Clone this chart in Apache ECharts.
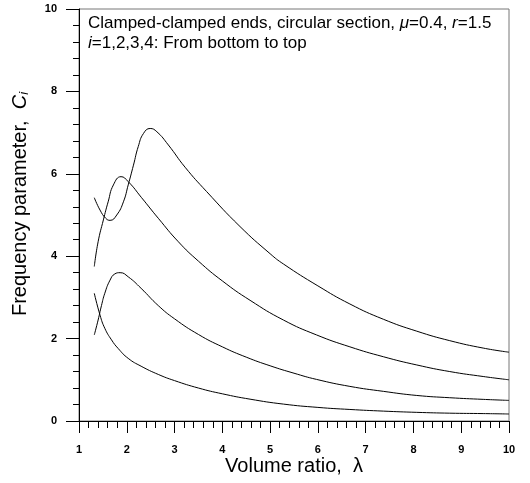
<!DOCTYPE html>
<html>
<head>
<meta charset="utf-8">
<script src="https://cdn.jsdelivr.net/npm/echarts@6/dist/echarts.min.js"></script>
<style>
  html, body { margin: 0; padding: 0; background: #fff; }
  #chart { width: 530px; height: 483px; }
</style>
</head>
<body>
<div id="chart"></div>
<script>
// values: volume ratio (lambda) and frequency parameter C_i
var lam1 = [1.32, 1.44, 1.54, 1.68, 1.82, 2.03, 2.30, 2.66, 3.0, 3.5, 4.0, 4.58, 5.28, 6.0, 6.67, 7.37, 8.07, 8.76, 9.46, 10];
var c1   = [3.10, 2.57, 2.25, 1.97, 1.76, 1.52, 1.33, 1.13, 0.98, 0.80, 0.66, 0.53, 0.41, 0.33, 0.28, 0.24, 0.21, 0.19, 0.18, 0.17];

var lam2 = [1.32, 1.40, 1.47, 1.54, 1.65, 1.75, 1.86, 2.03, 2.30, 2.66, 3.0, 3.5, 4.0, 4.5, 5.0, 5.5, 5.97, 6.67, 7.37, 8.07, 8.76, 9.46, 10];
var c2   = [2.09, 2.45, 2.80, 3.10, 3.42, 3.57, 3.60, 3.50, 3.22, 2.80, 2.48, 2.10, 1.80, 1.55, 1.34, 1.16, 1.01, 0.84, 0.72, 0.62, 0.565, 0.525, 0.50];

var lam3 = [1.32, 1.40, 1.51, 1.61, 1.72, 1.88, 2.03, 2.31, 2.66, 3.08, 3.5, 4.0, 4.58, 5.28, 5.97, 6.67, 7.37, 8.07, 8.76, 9.46, 10];
var c3   = [3.75, 4.35, 4.88, 5.32, 5.73, 5.93, 5.81, 5.42, 4.92, 4.35, 3.88, 3.40, 2.93, 2.45, 2.09, 1.80, 1.56, 1.36, 1.20, 1.08, 1.00];

var lam4 = [1.32, 1.44, 1.56, 1.65, 1.79, 1.93, 2.03, 2.14, 2.24, 2.35, 2.49, 2.63, 2.87, 3.22, 3.67, 4.37, 5.0, 5.28, 6.0, 6.67, 7.37, 8.07, 8.76, 9.46, 10];
var c4   = [5.42, 5.12, 4.92, 4.87, 5.00, 5.32, 5.73, 6.21, 6.66, 6.98, 7.10, 7.02, 6.70, 6.16, 5.57, 4.72, 4.06, 3.81, 3.28, 2.84, 2.47, 2.18, 1.95, 1.77, 1.67];

var xTicks = [1, 2, 3, 4, 5, 6, 7, 8, 9, 10];
var yTicks = [0, 2, 4, 6, 8, 10];

function zip(xs, ys) {
  return xs.map(function (x, k) { return [x, ys[k]]; });
}

var curves = [[lam1, c1], [lam2, c2], [lam3, c3], [lam4, c4]];

var font = '"Liberation Sans", Arial, sans-serif';

var chart = echarts.init(document.getElementById('chart'), null, { renderer: 'canvas' });

var option = {
  animation: false,
  backgroundColor: '#fff',
  grid: {
    left: 79, top: 9, right: 21, bottom: 62,
    show: true, borderColor: '#777', borderWidth: 1
  },
  title: {
    left: 88, top: 13, padding: 0,
    text: '{n|Clamped-clamped ends, circular section, }{it|μ}{n|=0.4, }{it|r}{n|=1.5}\n{it|i}{n|=1,2,3,4: From bottom to top}',
    textStyle: {
      rich: {
        n: { fontFamily: font, fontSize: 17, fontWeight: 'normal', color: '#000', lineHeight: 20 },
        it: { fontFamily: font, fontSize: 17, fontWeight: 'normal', color: '#000', fontStyle: 'italic', lineHeight: 20 }
      }
    }
  },
  xAxis: {
    type: 'value',
    min: xTicks[0], max: xTicks[xTicks.length - 1], interval: 1,
    name: 'Volume ratio,  λ',
    nameLocation: 'middle', nameGap: 35, nameMoveOverlap: false,
    nameTextStyle: { fontFamily: font, fontSize: 20, color: '#000' },
    axisLine: { onZero: false, lineStyle: { color: '#000', width: 1 } },
    axisTick: { length: 12, lineStyle: { color: '#000', width: 1 } },
    minorTick: { show: true, splitNumber: 5, length: 7, lineStyle: { color: '#000', width: 1 } },
    splitLine: { show: false },
    axisLabel: { margin: 23, fontFamily: font, fontSize: 11, fontWeight: 'bold', color: '#000' }
  },
  yAxis: {
    type: 'value',
    min: yTicks[0], max: yTicks[yTicks.length - 1], interval: 2,
    name: '{n|Frequency parameter,  }{it|C}{sub|i}',
    nameLocation: 'middle', nameGap: 48, nameRotate: 90, nameMoveOverlap: false,
    nameTextStyle: {
      padding: [0, 0, 0, 22],
      rich: {
        n: { fontFamily: font, fontSize: 20, color: '#000' },
        it: { fontFamily: font, fontSize: 20, color: '#000', fontStyle: 'italic' },
        sub: { fontFamily: font, fontSize: 13, color: '#000', fontStyle: 'italic', verticalAlign: 'bottom', padding: [9, 0, 0, 0] }
      }
    },
    axisLine: { onZero: false, lineStyle: { color: '#000', width: 1 } },
    axisTick: { length: 13, lineStyle: { color: '#000', width: 1 } },
    minorTick: { show: true, splitNumber: 5, length: 6, lineStyle: { color: '#000', width: 1 } },
    splitLine: { show: false },
    axisLabel: { margin: 22, fontFamily: font, fontSize: 11, fontWeight: 'bold', color: '#000' }
  },
  series: curves.map(function (c, k) {
    return {
      name: 'C' + (k + 1),
      type: 'line',
      data: zip(c[0], c[1]),
      smooth: 0.5,
      symbol: 'none',
      lineStyle: { color: '#000', width: 1 }
    };
  })
};

chart.setOption(option);
</script>
</body>
</html>
